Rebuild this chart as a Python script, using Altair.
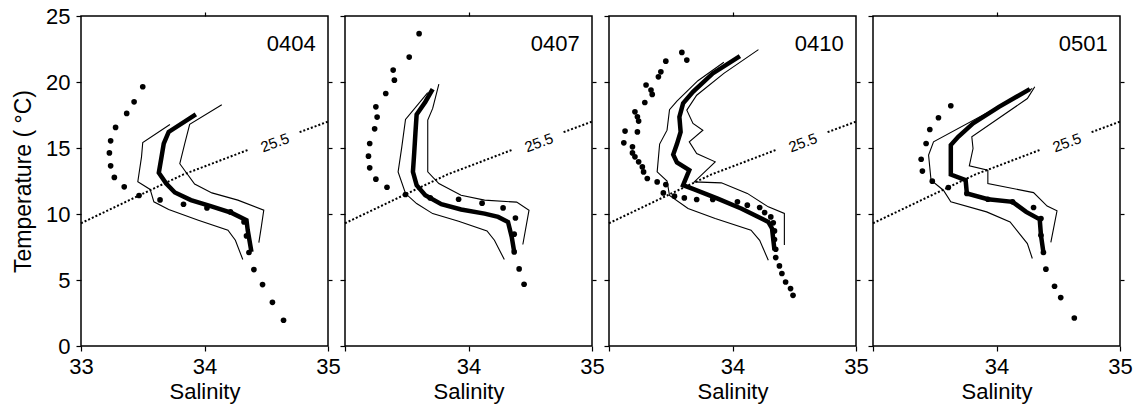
import altair as alt
import pandas as pd

PANELS = ["0404", "0407", "0410", "0501"]

# isopycnal 25.5 (two pieces, gap for the label)
ISO_S = [33.0, 33.47, 33.83, 34.0, 34.35, 34.77, 35.0]
ISO_T = [9.3, 11.4, 13.0, 13.6, 14.85, 16.2, 17.0]
ISO_SEG = [0, 0, 0, 0, 0, 1, 1]

# ---- 0404 ----
DOT_S_0404 = [33.50, 33.43, 33.37, 33.28, 33.24, 33.23, 33.24, 33.27, 33.35, 33.47, 33.64,
              33.83, 34.02, 34.21, 34.32, 34.34, 34.36, 34.40, 34.47, 34.55, 34.64]
DOT_T_0404 = [19.64, 18.50, 17.62, 16.56, 15.54, 14.63, 13.65, 12.77, 12.06, 11.40, 11.07,
              10.74, 10.46, 10.16, 9.40, 8.34, 7.08, 5.79, 4.65, 3.31, 1.95]
MEAN_S_0404 = [33.93, 33.71, 33.67, 33.65, 33.63, 33.69, 33.76, 33.89, 34.05, 34.22, 34.34, 34.35, 34.38]
MEAN_T_0404 = [17.54, 16.22, 15.34, 14.21, 13.12, 12.31, 11.63, 11.05, 10.59, 10.08, 9.53, 8.77, 7.13]
LO_S_0404 = [33.72, 33.50, 33.49, 33.46, 33.56, 33.59, 33.71, 33.95, 34.19, 34.25, 34.31]
LO_T_0404 = [16.78, 15.42, 14.33, 12.44, 11.86, 10.92, 10.34, 9.53, 8.77, 8.01, 6.55]
HI_S_0404 = [34.14, 33.88, 33.84, 33.80, 33.92, 34.06, 34.27, 34.48, 34.46, 34.44]
HI_T_0404 = [18.28, 16.80, 15.34, 13.81, 12.27, 11.60, 11.05, 10.29, 9.02, 7.83]

# ---- 0407 ----
DOT_S_0407 = [33.60, 33.52, 33.39, 33.40, 33.33, 33.25, 33.26, 33.24, 33.20, 33.19, 33.20, 33.25,
              33.34, 33.49, 33.69, 33.92, 34.11, 34.28, 34.38, 34.37, 34.37, 34.41, 34.45]
DOT_T_0407 = [23.66, 21.89, 20.90, 20.14, 19.13, 18.12, 17.34, 16.45, 15.34, 14.38, 13.50, 12.64,
              12.03, 11.48, 11.22, 11.12, 10.82, 10.46, 9.70, 8.47, 7.13, 5.84, 4.68]
MEAN_S_0407 = [33.71, 33.65, 33.58, 33.57, 33.56, 33.55, 33.58, 33.65, 33.78, 33.94, 34.13, 34.24, 34.32, 34.35, 34.37]
MEAN_T_0407 = [19.46, 18.49, 17.53, 16.10, 14.58, 13.19, 12.18, 11.42, 10.74, 10.34, 10.03, 9.78, 9.40, 8.27, 7.13]
LO_S_0407 = [33.67, 33.49, 33.46, 33.43, 33.49, 33.58, 33.71, 33.92, 34.15, 34.21, 34.29]
LO_T_0407 = [19.19, 17.16, 15.09, 13.19, 11.55, 10.79, 10.03, 9.45, 8.72, 8.01, 6.55]
HI_S_0407 = [33.76, 33.71, 33.67, 33.67, 33.76, 33.94, 34.13, 34.39, 34.49, 34.44]
HI_T_0407 = [19.84, 18.00, 17.11, 13.19, 12.31, 11.42, 11.05, 10.90, 10.29, 7.69]

# ---- 0410 ----
DOT_S_0410 = [33.59, 33.63, 33.46, 33.42, 33.40, 33.30, 33.34, 33.35, 33.29, 33.21, 33.23, 33.24,
              33.13, 33.23, 33.12, 33.19, 33.19, 33.21, 33.24, 33.27, 33.28, 33.31, 33.39, 33.46,
              33.44, 33.53, 33.61, 33.71, 33.84, 34.04, 34.12, 34.22, 34.26, 34.31, 34.33, 34.34,
              34.34, 34.35, 34.35, 34.38, 34.40, 34.43, 34.47, 34.49]
DOT_T_0410 = [22.24, 21.66, 21.58, 20.77, 20.39, 19.77, 19.39, 19.06, 18.45, 17.74, 17.36, 17.04,
              16.28, 16.22, 15.39, 15.09, 14.63, 14.33, 13.95, 13.57, 13.19, 12.69, 12.43, 12.23,
              11.60, 11.35, 11.22, 11.10, 11.10, 10.92, 10.67, 10.49, 10.11, 9.78, 9.33, 8.72,
              8.07, 7.33, 6.70, 6.07, 5.49, 4.85, 4.35, 3.84]
MEAN_S_0410 = [34.06, 33.84, 33.68, 33.60, 33.57, 33.58, 33.55, 33.52, 33.55, 33.65, 33.60, 33.69,
               33.88, 34.07, 34.29, 34.32, 34.34]
MEAN_T_0410 = [21.96, 20.65, 19.26, 18.38, 17.36, 16.22, 15.30, 14.50, 13.90, 13.32, 12.18, 11.86,
               11.17, 10.42, 9.40, 8.90, 7.26]
LO_S_0410 = [33.93, 33.72, 33.55, 33.49, 33.47, 33.41, 33.39, 33.47, 33.49, 33.64, 33.86, 34.15, 34.22, 34.29]
LO_T_0410 = [21.50, 20.10, 18.55, 17.90, 16.35, 15.30, 13.19, 12.50, 11.40, 10.42, 9.66, 8.77, 8.01, 6.49]
HI_S_0410 = [34.21, 33.93, 33.71, 33.63, 33.68, 33.76, 33.65, 33.71, 33.86, 33.69, 33.91, 34.12,
             34.29, 34.42, 34.42]
HI_T_0410 = [22.45, 20.65, 19.00, 17.87, 16.86, 16.35, 15.47, 14.58, 13.95, 12.43, 12.36, 11.56,
             10.54, 10.04, 7.65]

# ---- 0501 ----
DOT_S_0501 = [33.63, 33.53, 33.46, 33.43, 33.39, 33.40, 33.48, 33.61, 33.76, 33.93, 34.13, 34.30,
              34.36, 34.36, 34.38, 34.40, 34.47, 34.52, 34.63]
DOT_T_0501 = [18.20, 17.29, 16.40, 15.34, 14.15, 13.25, 12.49, 12.01, 11.55, 11.12, 10.92, 10.49,
              9.66, 8.39, 7.08, 5.82, 4.53, 3.67, 2.12]
MEAN_S_0501 = [34.27, 34.02, 33.81, 33.69, 33.63, 33.63, 33.63, 33.75, 33.76, 33.93, 34.13, 34.24, 34.35, 34.36, 34.38]
MEAN_T_0501 = [19.46, 18.12, 16.86, 15.85, 15.22, 14.21, 12.99, 12.56, 11.55, 11.12, 10.92, 10.16, 9.60, 8.39, 7.08]
LO_S_0501 = [34.29, 33.49, 33.45, 33.47, 33.57, 33.63, 33.92, 34.11, 34.25, 34.29]
LO_T_0501 = [19.51, 15.47, 14.46, 12.56, 11.80, 10.92, 10.16, 9.40, 7.76, 6.63]
HI_S_0501 = [34.31, 34.25, 33.80, 33.81, 33.78, 33.93, 33.93, 34.30, 34.41, 34.49, 34.44]
HI_T_0501 = [19.64, 18.75, 15.85, 14.96, 13.65, 13.32, 12.31, 11.62, 10.60, 10.24, 7.85]

SERIES = {
    "0404": (DOT_S_0404, DOT_T_0404, MEAN_S_0404, MEAN_T_0404, LO_S_0404, LO_T_0404, HI_S_0404, HI_T_0404),
    "0407": (DOT_S_0407, DOT_T_0407, MEAN_S_0407, MEAN_T_0407, LO_S_0407, LO_T_0407, HI_S_0407, HI_T_0407),
    "0410": (DOT_S_0410, DOT_T_0410, MEAN_S_0410, MEAN_T_0410, LO_S_0410, LO_T_0410, HI_S_0410, HI_T_0410),
    "0501": (DOT_S_0501, DOT_T_0501, MEAN_S_0501, MEAN_T_0501, LO_S_0501, LO_T_0501, HI_S_0501, HI_T_0501),
}

FONT = "Liberation Sans"
W, H = 247, 330


def panel(name, first):
    ds, dt, ms, mt, ls, lt, hs, ht = SERIES[name]
    dots = pd.DataFrame({"S": ds, "T": dt})
    mean = pd.DataFrame({"S": ms, "T": mt, "i": list(range(len(ms)))})
    thin = pd.concat([
        pd.DataFrame({"S": ls, "T": lt, "series": "lo", "i": list(range(len(ls)))}),
        pd.DataFrame({"S": hs, "T": ht, "series": "hi", "i": list(range(len(hs)))}),
    ])
    iso = pd.DataFrame({"S": ISO_S, "T": ISO_T, "seg": ISO_SEG, "i": list(range(len(ISO_S)))})
    one = pd.DataFrame({"k": [0]})

    xs = alt.Scale(domain=[33, 35], nice=False, zero=False)
    ys = alt.Scale(domain=[0, 25], nice=False, zero=False)

    xkw = dict(values=[33, 34, 35], format="d", tickMinStep=0.5, tickCount=3,
               title="Salinity", tickSize=5, labelPadding=5,
               labelFontSize=22, titleFontSize=22, titleY=35, titleBaseline="top",
               labelFlush=False, labelOverlap=False)
    if not first:
        xkw["labelExpr"] = "datum.value == 33 ? '' : datum.label"
    ykw = dict(values=[0, 5, 10, 15, 20, 25], format="d", tickMinStep=0.5, tickCount=6,
               tickSize=5, labelPadding=6,
               labelFontSize=22, labelFlush=False, labelOverlap=False)
    if first:
        ykw.update(title="Temperature ( °C)", titleFontSize=23, titleX=-51,
                   titleBaseline="alphabetic")
    else:
        ykw.update(labels=False, title=None)

    def X(axis=None):
        return alt.X("S:Q", scale=xs, axis=axis)

    def Y(axis=None):
        return alt.Y("T:Q", scale=ys, axis=axis)

    iso_l = alt.Chart(iso).mark_line(color="black", strokeWidth=2, strokeDash=[2, 2]).encode(
        x=X(), y=Y(), detail="seg:N", order="i:Q")
    thin_l = alt.Chart(thin).mark_line(color="black", strokeWidth=1.1).encode(
        x=X(), y=Y(), detail="series:N", order="i:Q")
    thick_l = alt.Chart(mean).mark_line(color="black", strokeWidth=4.5).encode(
        x=X(), y=Y(), order="i:Q")
    pts = alt.Chart(dots).mark_circle(color="black", size=32, opacity=1).encode(
        x=X(alt.Axis(**xkw)), y=Y(alt.Axis(**ykw)))
    frame = alt.Chart(dots).mark_point(opacity=0).encode(
        x=X(alt.Axis(orient="top", values=[34], tickCount=3, labels=False, title=None, tickSize=4)),
        y=Y(alt.Axis(orient="right", values=[5, 10, 15, 20], labels=False, title=None, tickSize=4)))
    iso_txt = alt.Chart(one).mark_text(text="25.5", angle=340, fontSize=15, font=FONT,
                                       align="center", baseline="middle", color="black").encode(
        x=alt.XDatum(34.57, axis=None), y=alt.YDatum(15.4, axis=None))
    lab = alt.Chart(one).mark_text(text=name, fontSize=22, font=FONT, align="right",
                                   baseline="middle", color="black").encode(
        x=alt.XDatum(34.9, axis=None), y=alt.YDatum(22.9, axis=None))

    return alt.layer(iso_l, thin_l, thick_l, pts, frame, iso_txt, lab).resolve_axis(
        x="independent", y="independent").properties(width=W, height=H)


chart = alt.hconcat(
    *[panel(n, i == 0) for i, n in enumerate(PANELS)],
    spacing=17, bounds="flush",
    padding={"left": 11, "top": 4, "right": 5, "bottom": 5},
).configure(font=FONT).configure_view(stroke="black", strokeWidth=1.5).configure_axis(
    labelFont=FONT, titleFont=FONT, labelColor="black", titleColor="black",
    tickColor="black", tickWidth=1.2, domain=False, grid=False, titleFontWeight="normal",
)

chart.save("out.html", embed_options={"renderer": "svg", "actions": False})
